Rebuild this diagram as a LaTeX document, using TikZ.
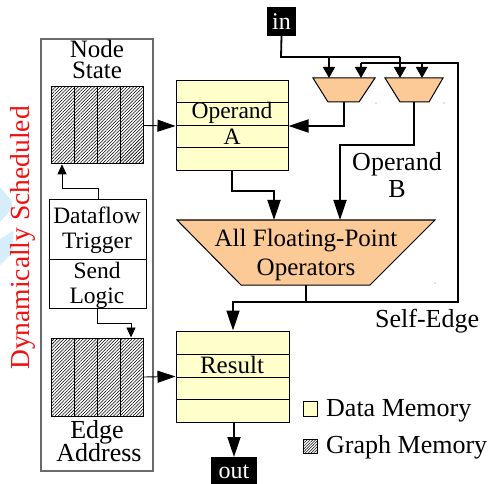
\documentclass[tikz,border=0pt]{standalone}
\usepackage{fontspec}
\setmainfont{Liberation Serif}
\usetikzlibrary{arrows.meta,patterns.meta}
\definecolor{memyellow}{HTML}{FFFFCC}
\definecolor{oppeach}{HTML}{FCCA96}
\definecolor{framegray}{HTML}{6A6A6A}
\definecolor{schedred}{HTML}{F01010}
\definecolor{haze}{HTML}{D6EEFA}
\newcommand\fsz[1]{\fontsize{#1}{#1}\selectfont}
\begin{document}
\begin{tikzpicture}[x=1pt,y=-1pt,
  lbl/.style={inner sep=0pt, anchor=base, font=\fsz{25}},
  boxlbl/.style={inner sep=0pt, anchor=base, font=\fsz{23.5}},
  leglbl/.style={inner sep=0pt, anchor=base west, font=\fsz{26}},
  hatch/.style={pattern={Lines[angle=45,distance=2.3pt,line width=0.6pt]}, pattern color=black},
  hatchblock/.style={draw, line width=1pt, hatch, inner sep=0pt, minimum width=92pt, minimum height=77pt},
  membox/.style={draw, line width=1pt, fill=memyellow, inner sep=0pt, minimum width=112pt, minimum height=90pt},
  port/.style={fill=black, text=white, inner sep=0pt, font=\fsz{24}},
  wire/.style={line width=1.8pt},
  thin wire/.style={line width=0.9pt},
  bigtip/.style={-{Triangle[length=20pt,width=13pt]}},
  sidetip/.style={-{Triangle[length=18pt,width=12pt]}},
  midtip/.style={-{Triangle[length=11pt,width=12pt]}},
  smalltip/.style={-{Triangle[length=10pt,width=9pt]}},
  opshape/.style={draw, line width=1pt, fill=oppeach}
]
\useasboundingbox (0,0) rectangle (493,484);
\fill[white] (0,0) rectangle (493,484);

% faint background shapes at the left margin
\fill[haze] (0,187) -- (12,201) -- (12,209) -- (0,222) -- cycle;
\fill[haze] (0,239) -- (13,231) -- (13,252) -- (0,265) -- cycle;

% scheduling frame
\node[draw=framegray, line width=1.4pt, inner sep=0pt, minimum width=112pt, minimum height=432pt] (frame) at (97,255) {};
\node[rotate=90, inner sep=0pt, anchor=base, text=schedred, font=\fsz{27.5}] (sched) at (30,238) {Dynamically Scheduled};

% node state memory
\node[lbl] (nslbl1) at (97,58) {Node};
\node[lbl] (nslbl2) at (97,79) {State};
\node[hatchblock] (ns) at (97,125.5) {};
\foreach \cx in {74,97,120} \draw[line width=1pt] (\cx,87) -- (\cx,164);

% dataflow trigger / send logic
\node[draw, line width=1pt, inner sep=0pt, minimum width=97pt, minimum height=108pt] (dt) at (97.5,254) {};
\draw[line width=1pt] (dt.west |- 0,259) -- (dt.east |- 0,259);
\node[boxlbl] (dtl1) at (97,223) {Dataflow};
\node[boxlbl] (dtl2) at (97,248) {Trigger};
\node[boxlbl] (sll1) at (97,278) {Send};
\node[boxlbl] (sll2) at (97,303) {Logic};

% edge address memory
\node[hatchblock, minimum height=78pt] (ea) at (97,377) {};
\foreach \cx in {74,97,120} \draw[line width=1pt] (\cx,338) -- (\cx,416);
\node[lbl, font=\fsz{26}] (eal1) at (97,438) {Edge};
\node[lbl, font=\fsz{26}] (eal2) at (99,461) {Address};

% operand A buffer
\node[membox] (opa) at (232,126) {};
\foreach \ry in {103,126,148} \draw[line width=1pt] (opa.west |- 0,\ry) -- (opa.east |- 0,\ry);
\node[boxlbl] (opal1) at (232,119) {Operand};
\node[boxlbl] (opal2) at (232,145) {A};

% result buffer
\node[membox, minimum width=113pt, minimum height=91pt] (res) at (232.5,376.5) {};
\foreach \ry in {354,377,399} \draw[line width=1pt] (res.west |- 0,\ry) -- (res.east |- 0,\ry);
\node[boxlbl, font=\fsz{25}] (resl) at (232,373) {Result};

% input multiplexers
\draw[opshape] (313,78) -- (375,78) -- (359,102) -- (328,102) -- cycle;
\draw[opshape] (385,78) -- (443,78) -- (429,102) -- (400,102) -- cycle;
\coordinate (m1a) at (329,78);  \coordinate (m1b) at (361,78);
\coordinate (m2a) at (400,78);  \coordinate (m2b) at (422,78);
\coordinate (m1o) at (344,102); \coordinate (m2o) at (414,102);
\fill[gray] (376,103) circle (0.6pt) (444,103) circle (0.6pt) (435,283) circle (0.6pt);

% floating-point operators
\draw[opshape] (177,220) -- (435,220) -- (370,285) -- (241,285) -- cycle;
\coordinate (fpa) at (274,220); \coordinate (fpb) at (340,220);
\coordinate (fpo) at (306,285);
\node[lbl] (fpl1) at (306,246) {All Floating-Point};
\node[lbl] (fpl2) at (306,275) {Operators};

% ports
\node[port, minimum width=29pt, minimum height=29pt] (in) at (281.5,21.5) {in};
\node[port, minimum width=46pt, minimum height=29pt, anchor=north] (out) at (234,457) {out};

% input distribution
\draw[wire] (in.south) -- (281,57) -- (400,57);
\draw[wire, midtip] (329,57) -- (m1a);
\draw[wire, midtip] (400,57) -- (m2a);

% self-edge loop back to the multiplexers
\draw[wire] (fpo) -- (306,302) coordinate (fpj);
\draw[wire, bigtip] (fpj) -- (233,302) -- (res.north -| 233,0);
\draw[wire] (fpj) -- (458,302) -- (458,63) -- (361,63);
\draw[wire, midtip] (361,63) -- (m1b);
\draw[wire, midtip] (422,63) -- (m2b);
\node[leglbl] (selfl) at (375,327) {Self-Edge};

% multiplexer outputs
\draw[wire, bigtip] (m1o) -- (344,126) -- (opa.east);
\draw[wire, bigtip] (m2o) -- (414,145) -- (340,145) -- (fpb);
\node[lbl, font=\fsz{26}] (opbl1) at (397,171) {Operand};
\node[lbl, font=\fsz{26}] (opbl2) at (397,197) {B};

% operand A into the operators, result to output
\draw[wire, bigtip] (opa.south -| 232,0) -- (232,191) -- (274,191) -- (fpa);
\draw[wire, bigtip] (res.south -| 234,0) -- (out.north);

% control and memory links
\draw[thin wire, sidetip] (ns.east) -- (opa.west);
\draw[thin wire, sidetip] (ea.east) -- (res.west);
\draw[thin wire, smalltip] (dt.north -| 98,0) -- (98,188) -- (62,188) -- (ns.south -| 62,0);
\draw[thin wire, smalltip] (dt.south -| 97,0) -- (97,323) -- (131,323) -- (ea.north -| 131,0);

% legend
\node[draw, line width=0.8pt, fill=memyellow, inner sep=0pt, minimum width=14pt, minimum height=15pt] (legd) at (310,408.5) {};
\node[leglbl] (legdl) at (326,416) {Data Memory};
\node[draw, line width=0.8pt, inner sep=0pt, minimum width=14pt, minimum height=14pt,
      pattern={Lines[angle=45,distance=2pt,line width=0.5pt]}] (legg) at (310,446) {};
\node[leglbl] (leggl) at (326,453) {Graph Memory};
\end{tikzpicture}
\end{document}
